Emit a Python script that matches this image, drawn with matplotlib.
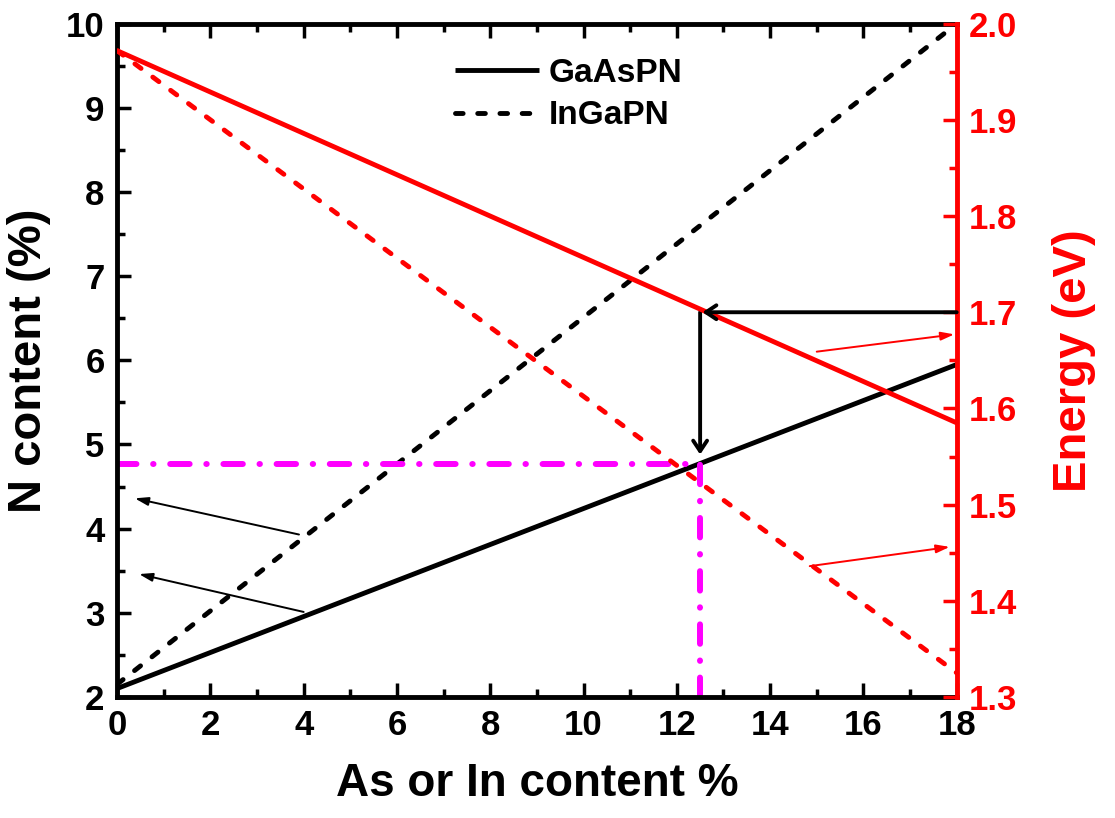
import matplotlib
matplotlib.use("Agg")
import matplotlib.pyplot as plt
from matplotlib.ticker import MultipleLocator

plt.rcParams['font.family'] = ['Liberation Sans', 'DejaVu Sans']
plt.rcParams['font.weight'] = 'bold'
plt.rcParams['lines.scale_dashes'] = False

# Data
x_content = [0, 18]                  # As or In content %
gaaspn_n = [2.10, 5.95]              # N content (%) GaAsPN
ingapn_n = [2.15, 10.0]              # N content (%) InGaPN
gaaspn_e = [1.972, 1.585]            # Energy (eV) GaAsPN
ingapn_e = [1.972, 1.325]            # Energy (eV) InGaPN
x_mark = 12.5                        # selected As content
n_mark = 4.77                        # resulting N content
e_mark = 1.70                        # target energy

fig = plt.figure(figsize=(11.15, 8.18), dpi=100)
ax = fig.add_axes([0.105, 0.148, 0.753, 0.823])
ax2 = ax.twinx()

LW = 3.5
dash = (0, (5.5, 10.5))
ax.plot(x_content, gaaspn_n, color='black', lw=LW, label='GaAsPN', solid_capstyle='butt')
ax.plot(x_content, ingapn_n, color='black', lw=LW, ls=dash, dash_capstyle='round', label='InGaPN')

# magenta guide lines
dd = (0, (14.0, 12.0, 0.3, 12.0))
ax.plot([0, x_mark], [n_mark, n_mark], color='#FF00FF', lw=4.3, ls=dd, dash_capstyle='round')
ax.plot([x_mark, x_mark], [2.0, n_mark], color='#FF00FF', lw=4.3, ls=dd, dash_capstyle='round')

ax2.plot(x_content, gaaspn_e, color='red', lw=LW, solid_capstyle='butt')
ax2.plot(x_content, ingapn_e, color='red', lw=LW, ls=dash, dash_capstyle='round')

# black construction arrows
ax2.annotate('', xy=(12.55, e_mark), xytext=(18.0, e_mark), xycoords='data',
             arrowprops=dict(arrowstyle='->,head_length=0.75,head_width=0.5', color='black', lw=2.8,
                             shrinkA=0, shrinkB=0))
ax.annotate('', xy=(x_mark, 4.88), xytext=(x_mark, e_mark), xycoords=ax.transData,
            textcoords=ax2.transData,
            arrowprops=dict(arrowstyle='->,head_length=0.75,head_width=0.5', color='black', lw=2.8,
                            shrinkA=0, shrinkB=0))

# thin pointer arrows
thin = dict(arrowstyle='-|>,head_length=0.8,head_width=0.25', color='black', lw=1.4, shrinkA=0, shrinkB=0)
ax.annotate('', xy=(0.38, 4.36), xytext=(3.9, 3.93), arrowprops=thin)
ax.annotate('', xy=(0.47, 3.46), xytext=(4.0, 3.01), arrowprops=thin)
thin_r = dict(thin, color='red')
ax2.annotate('', xy=(17.95, 1.677), xytext=(15.0, 1.659), arrowprops=thin_r)
ax2.annotate('', xy=(17.85, 1.456), xytext=(14.85, 1.436), arrowprops=thin_r)

# axes setup
ax.set_xlim(0, 18)
ax.set_ylim(2, 10)
ax2.set_ylim(1.3, 2.0)
ax.xaxis.set_major_locator(MultipleLocator(2))
ax.xaxis.set_minor_locator(MultipleLocator(1))
ax.yaxis.set_major_locator(MultipleLocator(1))
ax.yaxis.set_minor_locator(MultipleLocator(0.5))
ax2.yaxis.set_minor_locator(MultipleLocator(0.05))
ax2.set_yticks([1.3, 1.4, 1.5, 1.6, 1.7, 1.8, 1.9, 2.0])
ax2.set_yticklabels(['1.3', '1.4', '1.5', '1.6', '1.7', '1.8', '1.9', '2.0'])

ax.tick_params(axis='both', which='major', direction='in', length=10, width=2.5,
               labelsize=25, pad=9, top=True, right=False)
ax.tick_params(axis='both', which='minor', direction='in', length=5.5, width=2.5,
               top=True, right=False)
ax.tick_params(axis='x', labeltop=False)
ax2.tick_params(axis='y', which='major', direction='in', length=10, width=2.5,
                labelsize=25, pad=9, colors='red')
ax2.tick_params(axis='y', which='minor', direction='in', length=5.5, width=2.5, colors='red')

for s in ax.spines.values():
    s.set_linewidth(3.5)
for s in ax2.spines.values():
    s.set_linewidth(3.5)
ax2.spines['right'].set_color('red')
ax2.spines['left'].set_visible(False)
ax2.spines['top'].set_visible(False)
ax2.spines['bottom'].set_visible(False)
ax.spines['right'].set_visible(False)

ax.set_xlabel('As or In content %', fontsize=33, fontweight='bold', labelpad=14)
ax.set_ylabel('N content (%)', fontsize=34, fontweight='bold', labelpad=11)
ax2.set_ylabel('Energy (eV)', fontsize=34, fontweight='bold', color='red', labelpad=25)

ax.legend(loc='upper left', bbox_to_anchor=(0.367, 0.994), frameon=False, fontsize=24,
          handlelength=2.5, handletextpad=0.3, labelspacing=0.35)

fig.savefig('out.png', dpi=100)
